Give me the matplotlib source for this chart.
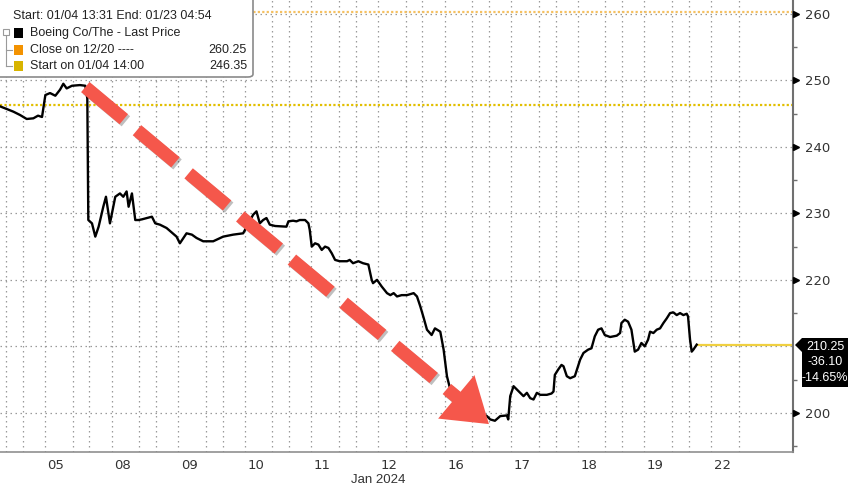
import matplotlib
matplotlib.use("Agg")
import matplotlib.pyplot as plt
import matplotlib.patheffects as pe
from matplotlib.patches import FancyBboxPatch, Polygon

# x = trading session index, day k spans [k, k+1), 0 = Jan 04
day_labels = ["05", "08", "09", "10", "11", "12", "16", "17", "18", "19", "22"]

t = [0.66, 0.76, 0.86, 0.96, 1.06, 1.16, 1.23, 1.29, 1.34, 1.41, 1.49, 1.56, 1.61, 1.66,
     1.74, 1.86, 1.94, 1.97, 1.985, 2.04, 2.09, 2.14, 2.21, 2.25, 2.31, 2.39, 2.46, 2.51,
     2.56, 2.59, 2.64, 2.69, 2.74, 2.79, 2.94, 2.99, 3.06, 3.16, 3.31, 3.36, 3.46, 3.54,
     3.61, 3.71, 3.86, 4.01, 4.16, 4.31, 4.38, 4.46, 4.51, 4.56, 4.61, 4.66, 4.71, 4.79,
     4.96, 4.99, 5.06, 5.11, 5.16, 5.24, 5.29, 5.31, 5.34, 5.39, 5.44, 5.49, 5.54, 5.59,
     5.64, 5.69, 5.76, 5.87, 5.91, 5.96, 6.04, 6.11, 6.19, 6.24, 6.26, 6.32, 6.39, 6.47,
     6.52, 6.57, 6.62, 6.69, 6.77, 6.87, 6.92, 6.97, 7.02, 7.07, 7.14, 7.19, 7.27, 7.32,
     7.37, 7.42, 7.49, 7.57, 7.67, 7.74, 7.82, 7.89, 7.97, 8.02, 8.09, 8.17, 8.27, 8.29,
     8.32, 8.37, 8.42, 8.47, 8.52, 8.57, 8.62, 8.67, 8.72, 8.77, 8.87, 8.94, 8.97, 8.99,
     9.04, 9.09, 9.12, 9.17, 9.22, 9.29, 9.37, 9.42, 9.49, 9.54, 9.59, 9.64, 9.69, 9.74,
     9.82, 9.92, 9.97, 9.99, 10.04, 10.09, 10.14, 10.19, 10.24, 10.29, 10.34, 10.39, 10.42,
     10.47, 10.52, 10.57, 10.62, 10.67, 10.72, 10.77, 10.82, 10.87, 10.92, 10.97, 10.99,
     11.02, 11.045, 11.07, 11.12]

price = [246.1, 245.7, 245.3, 244.8, 244.2, 244.3, 244.7, 244.5, 247.8, 248.1, 247.7, 248.6,
         249.5, 248.8, 249.2, 249.3, 249.2, 247.3, 229.0, 228.5, 226.5, 228.0, 231.0, 232.5,
         228.5, 232.5, 233.0, 232.5, 233.3, 231.0, 233.0, 229.0, 229.0, 229.1, 229.5, 228.5,
         228.3, 227.8, 226.5, 225.5, 227.0, 226.8, 226.3, 225.8, 225.8, 226.5, 226.8, 227.0,
         228.3, 229.8, 230.3, 228.5, 229.0, 229.3, 228.3, 228.1, 228.0, 228.8, 228.9, 228.8,
         229.0, 229.0, 228.5, 227.5, 225.0, 225.5, 225.3, 224.5, 225.0, 224.8, 224.0, 223.0,
         222.8, 222.8, 223.0, 222.5, 222.8, 222.5, 222.3, 220.0, 219.5, 220.0, 219.0, 218.0,
         217.7, 218.0, 217.5, 217.7, 217.7, 218.0, 217.5, 216.0, 214.3, 212.5, 211.7, 212.7,
         212.2, 209.5, 205.5, 203.5, 202.5, 201.5, 200.7, 200.5, 200.2, 200.0, 199.5, 199.0,
         198.8, 199.5, 199.6, 199.0, 202.5, 204.0, 203.5, 203.0, 202.5, 203.0, 202.2, 202.0,
         203.0, 202.7, 202.7, 202.9, 203.2, 205.7, 206.5, 207.2, 207.0, 205.5, 205.2, 205.5,
         208.0, 209.0, 209.5, 209.7, 211.5, 212.5, 212.7, 211.7, 211.4, 211.6, 212.0, 213.5,
         214.0, 213.7, 212.5, 209.2, 209.5, 210.5, 210.0, 211.0, 212.2, 212.0, 212.5, 212.7,
         213.5, 214.2, 215.0, 215.1, 214.7, 215.0, 214.7, 214.9, 214.5, 211.0, 209.2, 209.5,
         210.25]

close_1220 = 260.25
start_0104 = 246.35
last_price = 210.25
net_chg = -36.10
pct_chg = -14.65

# red arrow: start and tip (session index, price)
arrow_start = (1.94, 249.0)
arrow_tip = (8.0, 198.3)

W, H = 848, 488
fig = plt.figure(figsize=(W / 100, H / 100), dpi=100)
ax = fig.add_axes([0, 36 / H, 793 / W, 1 - 36 / H])
plt.rcParams["font.family"] = ["Liberation Sans", "DejaVu Sans"]

x0, x1 = 0.659, 12.566
ax.set_xlim(x0, x1)
ax.set_ylim(194.1, 262.1)


def fp(x, y):
    # pixel position in the figure -> figure fraction
    return x / W, 1 - y / H


# grid
grid_kw = dict(color="#9a9a9a", lw=0.9, ls=(0, (1.2, 2.8)), zorder=1)
for lv in range(200, 261, 10):
    ax.axhline(lv, **grid_kw)
for k in range(0, 12):
    for off in (0.0, 0.336, 0.75):
        if x0 < k + off < x1:
            ax.axvline(k + off, **grid_kw)

# reference lines
ax.axhline(close_1220, color="#f5c060", lw=1.6, ls=(0, (1, 1)), zorder=2)
ax.axhline(start_0104, color="#e2bf00", lw=1.6, ls=(0, (1, 1)), zorder=2)
ax.plot([t[-1], x1], [last_price, last_price], color="#f0d040", lw=1.6, zorder=2)

# price
ax.plot(t, price, color="black", lw=1.7, zorder=3)

# red dashed arrow
red = "#f5574b"
frac = 0.93
shaft_end = (arrow_start[0] + frac * (arrow_tip[0] - arrow_start[0]),
             arrow_start[1] + frac * (arrow_tip[1] - arrow_start[1]))
ax.plot([arrow_start[0], shaft_end[0]], [arrow_start[1], shaft_end[1]],
        color=red, lw=9.5, ls=(0, (3.8, 1.3)), dash_capstyle="butt", zorder=4,
        path_effects=[pe.SimpleLineShadow(offset=(1.5, -1.5), alpha=0.25), pe.Normal()])
ax.annotate("", xy=arrow_tip, xytext=shaft_end,
            arrowprops=dict(arrowstyle="-|>,head_length=0.9,head_width=0.6",
                            color=red, lw=0, mutation_scale=34, shrinkA=0, shrinkB=0),
            zorder=4)

# axes styling
for s in ("top", "left"):
    ax.spines[s].set_visible(False)
ax.spines["right"].set_color("#707070")
ax.spines["bottom"].set_color("#909090")
ax.spines["right"].set_linewidth(1.5)
ax.spines["bottom"].set_linewidth(1.2)

yticks = list(range(200, 261, 10))
ax.yaxis.tick_right()
ax.set_yticks(yticks)
# 210 sits under the last-price tag
ax.set_yticklabels(["" if v == 210 else str(v) for v in yticks])
ax.set_yticks(range(195, 261, 10), minor=True)
ax.tick_params(axis="y", which="major", length=0, pad=9, labelsize=9.5, labelcolor="#333333")
ax.tick_params(axis="y", which="minor", length=3, width=1, color="#707070")
ax.plot([1.004] * 6, [v for v in yticks if v != 210], ls="none", marker=">", ms=5,
        color="black", transform=ax.get_yaxis_transform(), clip_on=False, zorder=5)

ax.set_xticks([k + 1.5 for k in range(len(day_labels))])
ax.set_xticklabels(day_labels)
ax.tick_params(axis="x", length=0, pad=5, labelsize=9.5, labelcolor="#333333")
fig.text(*fp(378, 480), "Jan 2024", ha="center", va="center", fontsize=9.5, color="#333333")

# legend box
leg = FancyBboxPatch(fp(-10, 77), 263 / W, 90 / H, transform=fig.transFigure,
                     boxstyle="round,pad=0,rounding_size=0.006", fc="white",
                     ec="#8a8a8a", lw=1.2, zorder=10)
fig.patches.append(leg)
fs = 9
fig.text(*fp(13, 16), "Start: 01/04 13:31 End: 01/23 04:54", fontsize=fs,
         va="center", color="#222222", zorder=11)
rows = [("Boeing Co/The - Last Price", "", "black", 33),
        ("Close on 12/20 ----", f"{close_1220:.2f}", "#f39200", 50),
        ("Start on 01/04 14:00", f"{start_0104:.2f}", "#d8b400", 66)]
for label, val, col, yy in rows:
    sq = FancyBboxPatch(fp(14, yy + 5), 9 / W, 10 / H, transform=fig.transFigure,
                        boxstyle="square,pad=0", fc=col, ec="none", zorder=11)
    fig.patches.append(sq)
    fig.text(*fp(30, yy), label, fontsize=fs, va="center", color="#222222", zorder=11)
    if val:
        fig.text(*fp(247, yy), val, fontsize=fs, va="center", ha="right",
                 color="#222222", zorder=11)
# tree connector
tree_kw = dict(color="#9a9a9a", lw=0.8, transform=fig.transFigure, zorder=11)
fig.lines.append(plt.Line2D([fp(6, 0)[0]] * 2, [fp(0, 36)[1], fp(0, 66)[1]], **tree_kw))
for yy in (50, 66):
    fig.lines.append(plt.Line2D([fp(6, 0)[0], fp(12, 0)[0]], [fp(0, yy)[1]] * 2, **tree_kw))
box_icon = FancyBboxPatch(fp(3, 35), 6 / W, 6 / H, transform=fig.transFigure,
                          boxstyle="square,pad=0", fc="white", ec="#9a9a9a", lw=0.8, zorder=11)
fig.patches.append(box_icon)

# last price tag
tag = Polygon([fp(795, 345), fp(802, 338), fp(860, 338), fp(860, 387), fp(802, 387),
               fp(802, 352)], closed=True, transform=fig.transFigure, fc="black",
              ec="none", zorder=10)
fig.patches.append(tag)
for yy, xx, s in ((347, 806, f"{last_price:.2f}"), (362, 808, f"{net_chg:.2f}"),
                  (378, 802, f"{pct_chg:.2f}%")):
    fig.text(*fp(xx, yy), s, fontsize=9, color="white", va="center", zorder=11)

fig.savefig("out.png", dpi=100)
